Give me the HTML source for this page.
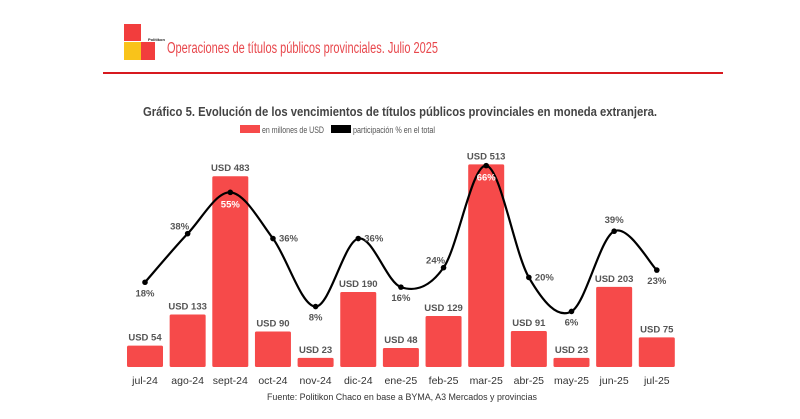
<!DOCTYPE html>
<html><head><meta charset="utf-8">
<style>
html,body{margin:0;padding:0;background:#fff;}
body{width:800px;height:414px;overflow:hidden;font-family:"Liberation Sans",sans-serif;}
</style></head>
<body>
<svg width="800" height="414" viewBox="0 0 800 414" font-family="Liberation Sans, sans-serif">
  <g>
    <rect x="124" y="24" width="17" height="17" fill="#f23d3d"/>
    <rect x="124" y="42" width="17" height="18" fill="#f9c31a"/>
    <rect x="141" y="42" width="14" height="18" fill="#f23d3d"/>
    <text x="148" y="41" font-size="4" font-weight="bold" fill="#222">Politikon</text>
  </g>
  <text x="167" y="53" font-size="15.5" fill="#e8474c" textLength="271" lengthAdjust="spacingAndGlyphs">Operaciones de títulos públicos provinciales. Julio 2025</text>
  <rect x="103" y="72" width="620" height="2" fill="#d7191f"/>
  <text x="143" y="116" font-size="13" font-weight="bold" fill="#444" textLength="514" lengthAdjust="spacingAndGlyphs">Gráfico 5. Evolución de los vencimientos de títulos públicos provinciales en moneda extranjera.</text>
  <g>
    <rect x="240" y="125" width="20" height="8" fill="#f64a4a"/>
    <text x="262" y="133" font-size="9" fill="#555" textLength="62" lengthAdjust="spacingAndGlyphs">en millones de USD</text>
    <rect x="331" y="125" width="20" height="8" fill="#000"/>
    <text x="353" y="133" font-size="9" fill="#555" textLength="82" lengthAdjust="spacingAndGlyphs">participación % en el total</text>
  </g>
  <g id="plot"></g>
  <text x="267" y="400" font-size="9.5" fill="#333" textLength="270" lengthAdjust="spacingAndGlyphs">Fuente: Politikon Chaco en base a BYMA, A3 Mercados y provincias</text>
</svg>
<script>
const categories = ["jul-24","ago-24","sept-24","oct-24","nov-24","dic-24","ene-25","feb-25","mar-25","abr-25","may-25","jun-25","jul-25"];
const usdValues = [54,133,483,90,23,190,48,129,513,91,23,203,75];
const pctValues = [18,38,55,36,8,36,16,24,66,20,6,39,23];
const pctLabelPos = ["below","aboveleft","inside","right","below","right","below","aboveleft","inside","right","below","above","below"];

const NS = "http://www.w3.org/2000/svg";
const plot = document.getElementById("plot");
const baseY = 367, x0 = 145, step = 42.65, barW = 36;
const xPos = i => x0 + i * step;
const yBar = v => baseY - v * 0.395;
const yPct = p => 326 - p * 2.43;

function mk(tag, attrs, text) {
  const el = document.createElementNS(NS, tag);
  for (const k in attrs) el.setAttribute(k, attrs[k]);
  if (text !== undefined) el.textContent = text;
  plot.appendChild(el);
  return el;
}

categories.forEach((c, i) => {
  const cx = xPos(i), top = yBar(usdValues[i]);
  const b = mk("rect", {x: cx - barW/2, y: top, width: barW, height: baseY - top, fill: "#f64a4a", rx: 1.5});
  
  
  const vl = mk("text", {x: cx, y: top - 5, "font-size": 9.5, "font-weight": "bold", fill: "#555", "text-anchor": "middle"}, "USD " + usdValues[i]);
  
  
  const xl = mk("text", {x: cx, y: 384, "font-size": 10.5, fill: "#333", "text-anchor": "middle"}, c);
  
  
});

const pts = pctValues.map((p, i) => [xPos(i), yPct(p)]);
let d = "M" + pts[0][0] + "," + pts[0][1];
for (let i = 0; i < pts.length - 1; i++) {
  const p0 = pts[i-1] || pts[i], p1 = pts[i], p2 = pts[i+1], p3 = pts[i+2] || p2;
  const c1 = [p1[0] + (p2[0]-p0[0])/6, p1[1] + (p2[1]-p0[1])/6];
  const c2 = [p2[0] - (p3[0]-p1[0])/6, p2[1] - (p3[1]-p1[1])/6];
  d += " C" + c1[0] + "," + c1[1] + " " + c2[0] + "," + c2[1] + " " + p2[0] + "," + p2[1];
}
const line = mk("path", {d: d, fill: "none", stroke: "#000", "stroke-width": 2.2});



pts.forEach((p, i) => {
  const dot = mk("circle", {cx: p[0], cy: p[1], r: 2.8, fill: "#000"});
  
  
  let lx = p[0], ly = p[1], anchor = "middle", fill = "#555";
  const pos = pctLabelPos[i];
  if (pos === "below") ly += 14;
  else if (pos === "above") ly -= 8;
  else if (pos === "aboveleft") { lx -= 8; ly -= 4; }
  else if (pos === "right") { lx += 6; ly += 3; anchor = "start"; }
  else if (pos === "inside") { ly += 15; fill = "#fff"; }
  const t = mk("text", {x: lx, y: ly, "font-size": 9.5, "font-weight": "bold", fill: fill, "text-anchor": anchor}, pctValues[i] + "%");
  
  
});
</script>
</body></html>
